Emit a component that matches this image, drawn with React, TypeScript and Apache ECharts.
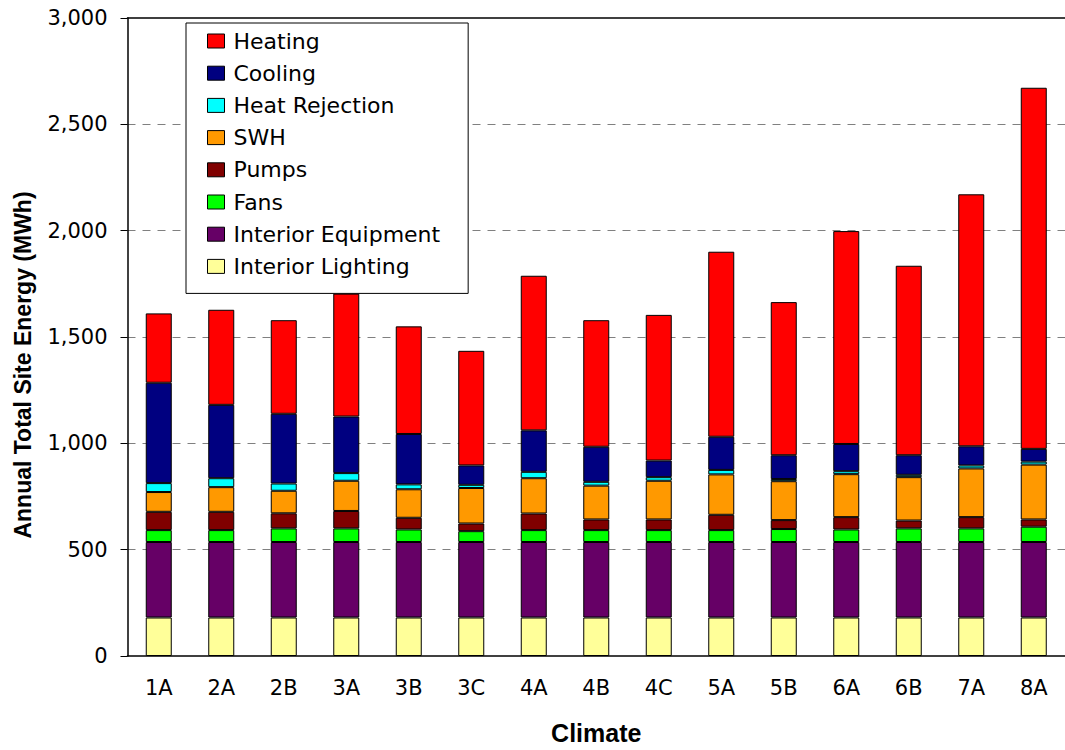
import React, { useEffect, useRef } from "react";
import * as echarts from "echarts";

const categories = ["1A", "2A", "2B", "3A", "3B", "3C", "4A", "4B", "4C", "5A", "5B", "6A", "6B", "7A", "8A"];

const interiorLighting = [181, 181, 181, 181, 181, 181, 181, 181, 181, 181, 181, 181, 181, 181, 181];
const interiorEquipment = [355, 355, 355, 355, 355, 355, 355, 355, 355, 355, 355, 355, 355, 355, 355];
const fans = [56, 56, 64, 64, 59, 51, 56, 56, 56, 56, 61, 59, 64, 64, 72];
const pumps = [86, 86, 71, 82, 55, 36, 78, 50, 50, 72, 42, 58, 37, 53, 34];
const swh = [93, 116, 106, 142, 134, 167, 166, 159, 182, 190, 183, 202, 204, 229, 258];
const heatRejection = [42, 42, 34, 36, 23, 15, 30, 18, 17, 21, 10, 14, 11, 14, 14];
const cooling = [472, 345, 328, 266, 237, 91, 195, 165, 78, 156, 112, 128, 92, 90, 60];
const heating = [326, 447, 440, 578, 506, 539, 727, 595, 685, 870, 720, 1001, 891, 1185, 1698];

const yTicks = [0, 500, 1000, 1500, 2000, 2500, 3000];

const seriesDefs = [
  { name: "Interior Lighting", data: interiorLighting, color: "#FFFF99" },
  { name: "Interior Equipment", data: interiorEquipment, color: "#660066" },
  { name: "Fans", data: fans, color: "#00FF00" },
  { name: "Pumps", data: pumps, color: "#800000" },
  { name: "SWH", data: swh, color: "#FF9900" },
  { name: "Heat Rejection", data: heatRejection, color: "#00FFFF" },
  { name: "Cooling", data: cooling, color: "#000080" },
  { name: "Heating", data: heating, color: "#FF0000" },
];

const FONT = "'DejaVu Sans', 'Liberation Sans', Arial, sans-serif";
const FONT_ARIAL = "'Liberation Sans', Arial, sans-serif";

export default function App() {
  const ref = useRef<HTMLDivElement>(null);

  useEffect(() => {
    if (!ref.current) return;
    const chart = echarts.init(ref.current, undefined, { renderer: "svg" });
    const option: any = {
      animation: false,
      backgroundColor: "#ffffff",
      textStyle: { fontFamily: FONT },
      grid: { left: 127.5, top: 18, width: 945, bottom: 90, containLabel: false },
      legend: {
        orient: "vertical",
        left: 186,
        top: 23,
        data: seriesDefs.map((s) => s.name).reverse(),
        icon: "rect",
        itemWidth: 17,
        itemHeight: 14,
        itemGap: 8.2,
        padding: [6, 28, 15, 21],
        backgroundColor: "#ffffff",
        borderColor: "#000000",
        borderWidth: 1,
        borderRadius: 0,
        textStyle: { fontFamily: FONT, fontSize: 22, color: "#000", lineHeight: 24, padding: [0, 0, 0, 4] },
        itemStyle: { borderColor: "#000", borderWidth: 1 },
      },
      graphic: [
        {
          type: "text",
          x: 23,
          y: 365,
          rotation: Math.PI / 2,
          style: {
            text: "Annual Total Site Energy (MWh)",
            font: "bold 23px 'Liberation Sans', Arial, sans-serif",
            fill: "#000",
            align: "center",
            verticalAlign: "middle",
          },
        },
      ],
      xAxis: [
        {
          type: "category",
          data: categories,
          position: "bottom",
          axisLine: { show: true, lineStyle: { color: "#000", width: 1.5 } },
          axisTick: { show: false },
          axisLabel: { color: "#000", fontSize: 21, fontFamily: FONT, margin: 21 },
          name: "Climate",
          nameLocation: "middle",
          nameGap: 64,
          nameTextStyle: { fontSize: 25, fontWeight: "bold", color: "#000", fontFamily: FONT_ARIAL, verticalAlign: "top" },
        },
        {
          type: "category",
          data: categories,
          position: "top",
          axisLine: { show: true, lineStyle: { color: "#000", width: 1.5 } },
          axisTick: { show: false },
          axisLabel: { show: false },
        },
      ],
      yAxis: {
        type: "value",
        min: 0,
        max: 3000,
        interval: 500,
        axisLine: { show: true, lineStyle: { color: "#000", width: 1.5 } },
        axisTick: { show: true, inside: false, length: 7, lineStyle: { color: "#000" } },
        axisLabel: {
          color: "#000",
          fontSize: 21,
          fontFamily: FONT,
          margin: 20,
          formatter: (v: number) => (yTicks.includes(v) ? v.toLocaleString("en-US") : ""),
        },
        splitLine: {
          show: true,
          showMinLine: false,
          showMaxLine: false,
          lineStyle: { color: "#808080", type: [8, 7], width: 1 },
        },
      },
      series: seriesDefs.map((s) => ({
        name: s.name,
        type: "bar",
        stack: "total",
        xAxisIndex: 0,
        data: s.data,
        barWidth: 26,
        itemStyle: { color: s.color, borderColor: "#000", borderWidth: 1 },
      })),
    };
    chart.setOption(option);
    return () => chart.dispose();
  }, []);

  return (
    <div
      ref={ref}
      style={{ position: "absolute", left: 0, top: 0, width: 1065, height: 750, background: "#fff" }}
    />
  );
}
